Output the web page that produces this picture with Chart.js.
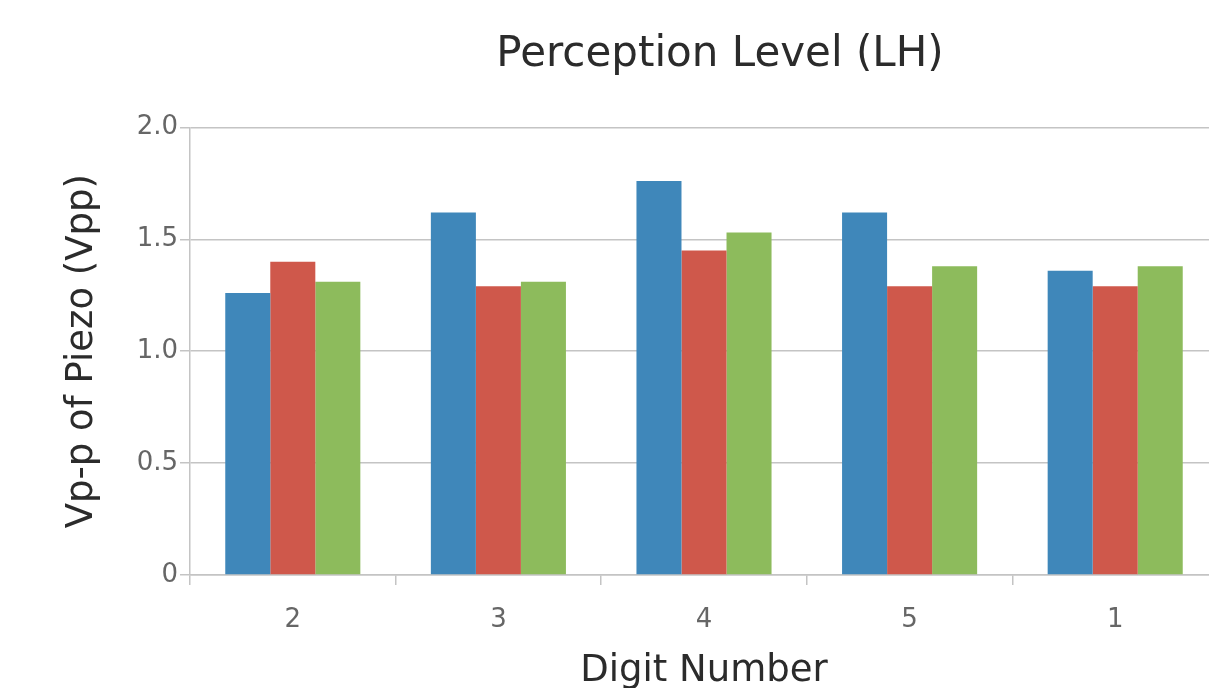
<!DOCTYPE html>
<html>
<head>
<meta charset="utf-8">
<script src="https://cdn.jsdelivr.net/npm/chart.js@4.4.1/dist/chart.umd.min.js"></script>
<style>
  html, body { margin: 0; padding: 0; background: #ffffff; overflow: hidden; }
  #wrap { position: relative; width: 1230px; height: 700px; }
</style>
</head>
<body>
<div id="wrap"><canvas id="c" width="1230" height="700"></canvas></div>
<script>
const categories = ["2", "3", "4", "5", "1"];
const seriesBlue  = [1.26, 1.62, 1.76, 1.62, 1.36];
const seriesRed   = [1.40, 1.29, 1.45, 1.29, 1.29];
const seriesGreen = [1.31, 1.31, 1.53, 1.38, 1.38];
const yTickValues = [0, 0.5, 1.0, 1.5, 2.0];
const yTickLabels = ["0", "0.5", "1.0", "1.5", "2.0"];

const FONT = "'DejaVu Sans', 'Liberation Sans', sans-serif";
const gridColor = "#c4c4c4";

const shiftTitle = {
  id: "shiftTitle",
  afterLayout(chart) {
    const tb = chart.titleBlock;
    if (tb) { tb.left += 16; tb.right += 16; }
  }
};

const ctx = document.getElementById("c").getContext("2d");
new Chart(ctx, {
  type: "bar",
  data: {
    labels: categories,
    datasets: [
      { label: "Series 1", data: seriesBlue,  backgroundColor: "#3f87ba" },
      { label: "Series 2", data: seriesRed,   backgroundColor: "#cf584b" },
      { label: "Series 3", data: seriesGreen, backgroundColor: "#8dbb5c" }
    ]
  },
  plugins: [shiftTitle],
  options: {
    responsive: false,
    animation: false,
    devicePixelRatio: 1,
    layout: { padding: { left: 0, right: 12, top: 0, bottom: 0 } },
    datasets: { bar: { categoryPercentage: 0.657, barPercentage: 1.0, borderWidth: 0 } },
    plugins: {
      legend: { display: false },
      tooltip: { enabled: false },
      title: {
        display: true,
        text: "Perception Level (LH)",
        fullSize: false,
        color: "#2b2b2b",
        font: { family: FONT, size: 42, weight: "normal" },
        padding: { top: 30, bottom: 47 }
      }
    },
    scales: {
      x: {
        type: "category",
        offset: true,
        grid: { offset: true, drawOnChartArea: false, drawTicks: true, tickLength: 10, color: gridColor, lineWidth: 1.5 },
        border: { display: true, color: gridColor, width: 1.5 },
        ticks: { color: "#666666", font: { family: FONT, size: 26 }, padding: 20 },
        title: {
          display: true,
          text: "Digit Number",
          color: "#2b2b2b",
          font: { family: FONT, size: 37, weight: "normal" },
          padding: { top: 0, bottom: 6 }
        },
        afterFit: (s) => { s.height = 125; }
      },
      y: {
        min: 0,
        max: 2.0,
        afterBuildTicks: (s) => { s.ticks = yTickValues.map(v => ({ value: v })); },
        grid: { color: gridColor, lineWidth: 1.5, tickLength: 10, drawTicks: true },
        border: { display: true, color: gridColor, width: 1.5 },
        ticks: {
          color: "#666666",
          font: { family: FONT, size: 26 },
          padding: 2,
          callback: (v) => { const i = yTickValues.indexOf(v); return i >= 0 ? yTickLabels[i] : ""; }
        },
        title: {
          display: true,
          text: "Vp-p of Piezo (Vpp)",
          color: "#2b2b2b",
          font: { family: FONT, size: 37, weight: "normal" },
          padding: { top: 60, bottom: 0 }
        },
        afterFit: (s) => { s.width = 190; }
      }
    }
  }
});
</script>
</body>
</html>
